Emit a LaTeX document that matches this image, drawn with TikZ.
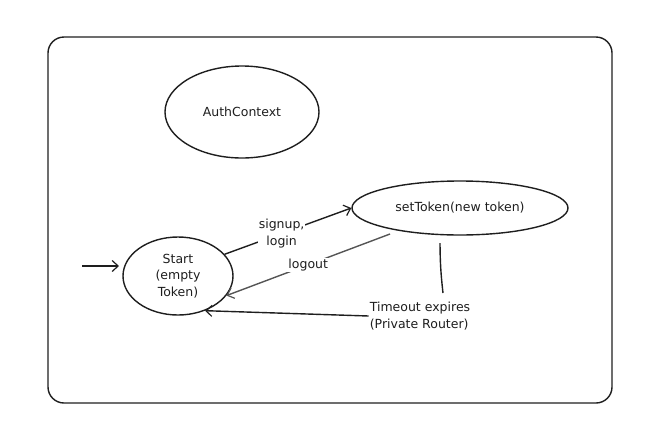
\documentclass[tikz,border=0pt]{standalone}
\usepackage{fontspec}
\setmainfont{DejaVu Sans}
\usetikzlibrary{arrows.meta,shapes.geometric}
\definecolor{ink}{HTML}{1E1E1E}
\definecolor{soft}{HTML}{555555}
\begin{document}
\begin{tikzpicture}[x=1pt,y=-1pt,
  every node/.style={font=\fontsize{12.5}{16.5}\selectfont, text=ink},
  state/.style={draw=ink, line width=1.4pt, ellipse, inner sep=0pt},
  lbl/.style={align=center, fill=white, inner sep=1pt},
  conn/.style={draw=ink, line width=1.4pt},
  arr/.style={conn, -{Straight Barb[length=6pt,width=11pt,line width=1.2pt]}}]
\useasboundingbox (0,0) rectangle (655,445);
\draw[draw=ink, line width=1.4pt, rounded corners=16pt] (48,37) rectangle (612,403);
\node[state, minimum width=154pt, minimum height=92pt] (auth) at (242,112) {AuthContext};
\node[state, minimum width=110pt, minimum height=78pt, align=center] (start) at (178,276) {Start\\(empty\\Token)};
\node[state, minimum width=216pt, minimum height=54pt] (tok) at (460,208) {setToken(new token)};
\coordinate (in) at (82,266);
\coordinate (inend) at (119,266);
\draw[arr] (in) -- (inend);
% signup/login
\draw[arr] (start.25) -- node[lbl, pos=0.45] {signup,\\login} (tok.west);
% logout
\coordinate (lo) at (390,234);
\draw[arr, draw=soft] (lo) -- node[lbl, pos=0.5] {logout} (start.-22);
% timeout
\node[lbl, align=left] (to) at (420,316) {Timeout expires\\(Private Router)};
\coordinate (t1) at (440,243);
\coordinate (t2) at (443,293);
\draw[conn] (t1) to[bend right=3] (t2);
\draw[arr] (to.west) -- (start.-52);
\end{tikzpicture}
\end{document}
